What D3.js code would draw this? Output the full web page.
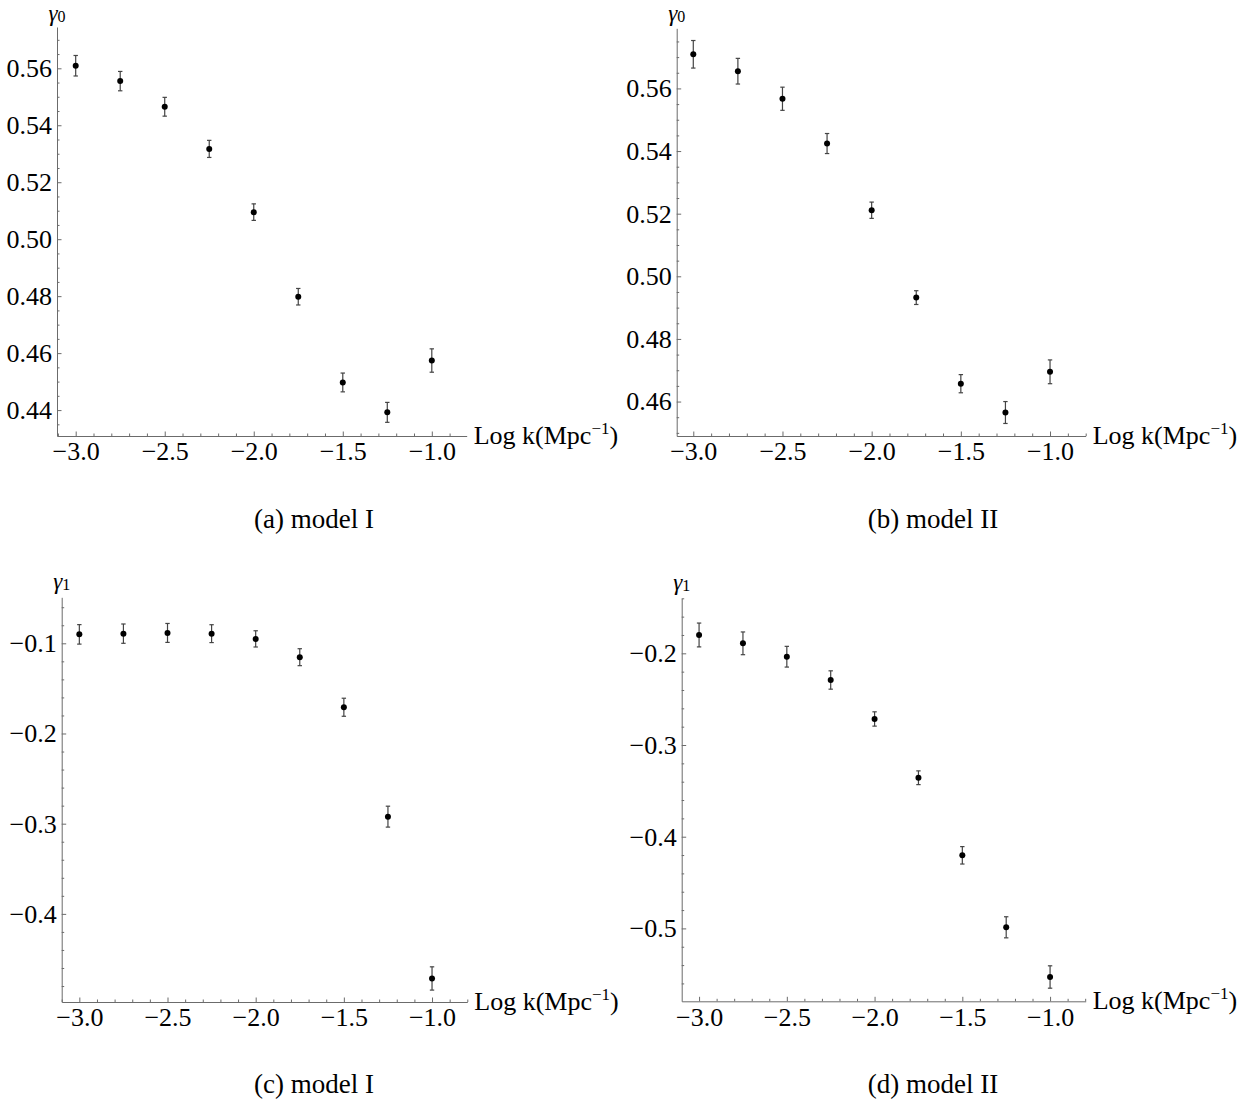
<!DOCTYPE html>
<html lang="en">
<head>
    <meta charset="UTF-8">
    <title>gamma0 / gamma1 vs Log k</title>
    <script src="https://d3js.org/d3.v7.min.js"></script>
    <style>
        body { margin: 0; background: #fff; }
        svg text { font-family: "Liberation Serif", "Times New Roman", serif; fill: #000; }
        .axis path, .axis line { stroke: #6b6b6b; stroke-width: 1px; }
        .axis text { font-size: 26px; }
        .errbar { stroke: #444; stroke-width: 1.2px; }
        .dot { fill: #000; }
        .xlabel { font-size: 26px; }
        .ylabel { font-size: 23px; }
        .caption { font-size: 27px; }
    </style>
</head>
<body>
    <script>
        // log k values, same for every panel
        var logK = [-3.0, -2.75, -2.5, -2.25, -2.0, -1.75, -1.5, -1.25, -1.0];

        // gamma0, model I and II
        var g0ModelI    = [0.5609, 0.5555, 0.5465, 0.5317, 0.5095, 0.4798, 0.4497, 0.4392, 0.4574];
        var g0ModelIErr = [0.0036, 0.0034, 0.0033, 0.0030, 0.0029, 0.0029, 0.0033, 0.0035, 0.0041];
        var g0ModelII    = [0.5709, 0.5655, 0.5567, 0.5424, 0.5211, 0.4932, 0.4657, 0.4565, 0.4695];
        var g0ModelIIErr = [0.0044, 0.0041, 0.0037, 0.0032, 0.0026, 0.0022, 0.0029, 0.0035, 0.0038];

        // gamma1, model I and II
        var g1ModelI    = [-0.0901, -0.0893, -0.0885, -0.0893, -0.0951, -0.1154, -0.1709, -0.2922, -0.4716];
        var g1ModelIErr = [0.0108, 0.0107, 0.0105, 0.0099, 0.0090, 0.0094, 0.0100, 0.0116, 0.0129];
        var g1ModelII    = [-0.1800, -0.1891, -0.2037, -0.2291, -0.2716, -0.3357, -0.4203, -0.4988, -0.5530];
        var g1ModelIIErr = [0.0130, 0.0124, 0.0113, 0.0100, 0.0078, 0.0075, 0.0095, 0.0115, 0.0122];

        // tick values
        var xMajor = [-3.0, -2.5, -2.0, -1.5, -1.0];
        var g0Major = [0.44, 0.46, 0.48, 0.50, 0.52, 0.54, 0.56];
        var g1Major = [-0.5, -0.4, -0.3, -0.2, -0.1];

        var captions = ["(a) model I", "(b) model II", "(c) model I", "(d) model II"];

        var width = 1255, height = 1105;

        var svg = d3.select("body").append("svg")
            .attr("width", width)
            .attr("height", height);

        var panels = [
            { sub: "0", y: g0ModelI, err: g0ModelIErr, major: g0Major, fmt: ".2f", minorStep: 0.005,
              left: 57, right: 466.7, top: 27, bottom: 436,
              xDom: [-3.105, -0.804], yDom: [0.4309, 0.5745], capX: 314, capY: 528 },
            { sub: "0", y: g0ModelII, err: g0ModelIIErr, major: g0Major, fmt: ".2f", minorStep: 0.005,
              left: 676.7, right: 1085.7, top: 28.3, bottom: 436,
              xDom: [-3.093, -0.8], yDom: [0.449, 0.5792], capX: 933, capY: 528 },
            { sub: "1", y: g1ModelI, err: g1ModelIErr, major: g1Major, fmt: ".1f", minorStep: 0.02,
              left: 61.7, right: 467.3, top: 597.3, bottom: 1002,
              xDom: [-3.1, -0.8], yDom: [-0.4977, -0.049], capX: 314, capY: 1093 },
            { sub: "1", y: g1ModelII, err: g1ModelIIErr, major: g1Major, fmt: ".1f", minorStep: 0.02,
              left: 681.7, right: 1085.7, top: 598.3, bottom: 1001.3,
              xDom: [-3.099, -0.797], yDom: [-0.5795, -0.14], capX: 933, capY: 1093 }
        ];

        function minorTicks(dom, step, major) {
            var out = [];
            var start = Math.ceil(dom[0] / step - 1e-6);
            var end = Math.floor(dom[1] / step + 1e-6);
            for (var i = start; i <= end; i++) {
                var v = +(i * step).toFixed(4);
                if (!major.some(m => Math.abs(m - v) < 1e-6)) out.push(v);
            }
            return out;
        }

        panels.forEach(function(p, i) {
            var x = d3.scaleLinear().domain(p.xDom).range([p.left, p.right]);
            var y = d3.scaleLinear().domain(p.yDom).range([p.bottom, p.top]);

            var g = svg.append("g");

            // minor ticks first
            g.append("g")
                .attr("class", "axis")
                .attr("transform", `translate(0,${p.bottom})`)
                .call(d3.axisBottom(x)
                    .tickValues(minorTicks(p.xDom, 0.1, xMajor))
                    .tickFormat("")
                    .tickSizeInner(-2.5)
                    .tickSizeOuter(0))
                .select(".domain").remove();

            g.append("g")
                .attr("class", "axis")
                .attr("transform", `translate(${p.left},0)`)
                .call(d3.axisLeft(y)
                    .tickValues(minorTicks(p.yDom, p.minorStep, p.major))
                    .tickFormat("")
                    .tickSizeInner(-2.5)
                    .tickSizeOuter(0))
                .select(".domain").remove();

            // major ticks with labels
            g.append("g")
                .attr("class", "axis")
                .attr("transform", `translate(0,${p.bottom})`)
                .call(d3.axisBottom(x)
                    .tickValues(xMajor)
                    .tickFormat(d3.format(".1f"))
                    .tickSizeInner(-4.5)
                    .tickSizeOuter(0)
                    .tickPadding(6));

            g.append("g")
                .attr("class", "axis")
                .attr("transform", `translate(${p.left},0)`)
                .call(d3.axisLeft(y)
                    .tickValues(p.major.filter(v => v >= p.yDom[0] && v <= p.yDom[1]))
                    .tickFormat(d3.format(p.fmt))
                    .tickSizeInner(-4.5)
                    .tickSizeOuter(0)
                    .tickPadding(5));

            g.selectAll(".axis text").attr("fill", "#000");

            // y axis label
            var yl = g.append("text")
                .attr("class", "ylabel")
                .attr("x", p.left)
                .attr("y", Math.max(p.top - 8, 21))
                .attr("text-anchor", "middle");
            yl.append("tspan").style("font-style", "italic").text("γ");
            yl.append("tspan").attr("font-size", "16px").attr("dy", 1).text(p.sub);

            // x axis label
            var xl = g.append("text")
                .attr("class", "xlabel")
                .attr("x", p.right + 7)
                .attr("y", p.bottom + 8);
            xl.append("tspan").text("Log k(Mpc");
            xl.append("tspan").attr("font-size", "17px").attr("dy", -10).text("−1");
            xl.append("tspan").attr("dy", 10).text(")");

            var data = logK.map((k, j) => ({ k: k, v: p.y[j], e: p.err[j] }));

            // error bars
            var eb = g.selectAll(".eb").data(data).enter().append("g");
            eb.append("line").attr("class", "errbar")
                .attr("x1", d => x(d.k)).attr("x2", d => x(d.k))
                .attr("y1", d => y(d.v - d.e)).attr("y2", d => y(d.v + d.e));
            eb.append("line").attr("class", "errbar")
                .attr("x1", d => x(d.k) - 2.2).attr("x2", d => x(d.k) + 2.2)
                .attr("y1", d => y(d.v + d.e)).attr("y2", d => y(d.v + d.e));
            eb.append("line").attr("class", "errbar")
                .attr("x1", d => x(d.k) - 2.2).attr("x2", d => x(d.k) + 2.2)
                .attr("y1", d => y(d.v - d.e)).attr("y2", d => y(d.v - d.e));

            g.selectAll(".dot").data(data).enter().append("circle")
                .attr("class", "dot")
                .attr("cx", d => x(d.k))
                .attr("cy", d => y(d.v))
                .attr("r", 3);

            svg.append("text")
                .attr("class", "caption")
                .attr("x", p.capX)
                .attr("y", p.capY)
                .attr("text-anchor", "middle")
                .text(captions[i]);
        });
    </script>
</body>
</html>
